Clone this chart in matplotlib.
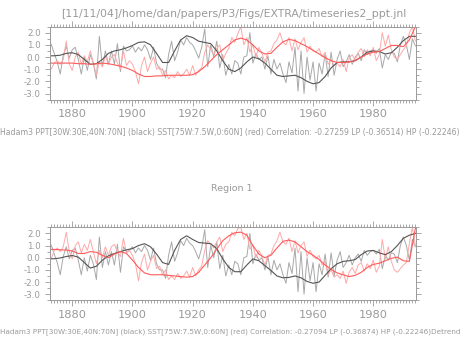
import numpy as np
import matplotlib
matplotlib.use("Agg")
import matplotlib.pyplot as plt
from matplotlib.ticker import MultipleLocator

lata = np.arange(1872, 1995)

# opad (czarny) - surowe wartosci roczne
ppt = [0.5, 1.05, 0.3, -0.4, -1.4, 0.1, 0.9, -0.1, 0.6, 0.8,
       -0.2, -1.4, 0.0, -1.1, 0.2, -0.5, -1.8, 1.7, -0.8, 0.5,
       -0.6, 0.5, -0.6, 1.1, -1.2, 0.9, 0.5, 0.6, 0.9, 0.4,
       0.8, 0.5, 1.0, 0.6, -0.2, 0.8, -0.5, -1.0, -1.0, -1.7,
       0.2, 1.3, -0.3, 0.4, 1.4, 1.0, 1.6, 1.2, 1.0, 0.5,
       -0.1, 0.8, 2.3, -0.8, 1.0, 0.0, 1.3, -0.9, 0.2, -1.5,
       -0.6, -1.4, -0.3, -0.5, -1.4, 0.0, 0.1, 2.0, -0.5, 0.3,
       -0.2, 0.0, -1.0, 0.1, -1.4, -0.2, -1.0, -0.5, -1.4, -2.1,
       -0.4, -1.3, 0.8, -2.8, 0.5, -3.0, 0.0, -1.9, -0.4, -2.8,
       -0.5, -1.4, 0.3, -1.6, 0.4, -1.5, -0.2, 0.5, -0.8, -0.4,
       0.2, -0.6, 0.0, 0.3, -0.3, 0.6, 0.2, 0.5, 0.6, 0.3,
       0.7, -0.9, 0.2, -0.2, 0.4, 0.3, -0.4, 1.0, 1.7, 1.0,
       -0.2, 1.5, 0.9]

# SST (czerwony) - surowe wartosci roczne
sst = [-0.3, -1.0, -0.5, -0.3, -0.6, -0.2, 1.3, -0.6, -1.1, 0.0,
       0.4, -0.6, 0.1, -0.4, 0.5, -0.5, -1.5, -0.4, -0.8, 0.1,
       -0.6, 0.0, 0.2, -0.5, -1.0, 0.5, -0.7, -0.3, -0.6, -1.2,
       -2.2, -0.7, 0.0, -1.2, -0.5, 0.0, -1.0, -0.8, -1.5, -1.1,
       -1.8, -1.5, -1.7, -1.2, -1.6, -1.4, -1.0, -1.5, -0.7, -1.5,
       -1.1, -0.9, 0.4, 1.0, 0.6, 0.2, 0.7, 1.0, -0.3, 0.3,
       0.7, 1.6, 1.2, 1.9, 2.5, 1.0, 1.6, 0.4, 1.0, 0.0,
       0.8, 0.3, -0.4, 0.4, 0.5, 1.1, 1.4, 2.0, 1.2, 1.0,
       1.6, 0.5, 1.5, 0.6, 1.2, 1.6, 0.4, 0.9, 0.5, 0.4,
       0.7, 0.0, 0.4, -0.6, -0.2, -0.7, -0.5, -0.8, -0.2, -1.2,
       -0.1, 0.2, -0.3, 0.4, 0.7, 0.0, 0.6, 0.1, 0.8, -0.3,
       0.2, 2.0, 0.9, 1.8, 0.6, 0.0, -0.2, 0.2, 0.6, 0.9,
       2.0, 2.5, 1.3]

# SST bez trendu (dolny wykres)
sst_dt = [0.8, -0.1, 0.6, 0.8, 0.5, 0.9, 2.1, 0.5, -0.1, 1.0,
          1.3, 0.4, 1.1, 0.6, 1.5, 0.5, -0.5, 0.6, 0.0, 0.9,
          0.2, 0.9, 1.1, 0.5, 0.1, 1.6, 0.4, 0.6, 0.2, -0.5,
          -1.9, -0.4, 0.3, -1.0, -0.3, 0.2, -0.9, -0.7, -1.4, -1.0,
          -1.8, -1.5, -1.8, -1.3, -1.7, -1.5, -1.1, -1.6, -0.8, -1.5,
          -1.0, -0.7, 0.6, 1.4, 1.1, 0.8, 1.3, 1.7, 0.5, 1.1,
          1.3, 2.1, 1.8, 2.4, 2.5, 1.5, 2.0, 0.7, 1.0, 0.0,
          0.6, 0.1, -0.6, 0.2, 0.3, 1.0, 1.4, 2.1, 1.3, 1.1,
          1.6, 0.5, 1.4, 0.4, 1.0, 1.3, 0.1, 0.6, 0.1, -0.1,
          0.2, -0.6, -0.3, -1.4, -1.0, -1.6, -1.4, -1.7, -1.1, -2.1,
          -1.2, -0.8, -1.3, -0.6, -0.4, -1.1, -0.5, -0.9, -0.2, -1.2,
          -0.7, 1.5, -0.1, 0.9, -0.3, -1.0, -1.2, -0.9, -0.6, -0.4,
          1.2, 2.5, 1.0]

# filtr dolnoprzepustowy, co 2 lata
lata_lp = np.arange(1872, 1996, 2)
ppt_lp = [0.1, 0.1, 0.15, 0.3, 0.35, 0.2, -0.2, -0.6, -0.55, -0.2,
          0.3, 0.5, 0.6, 0.75, 0.95, 1.2, 1.25, 1.0, 0.3, -0.45,
          -0.45, 0.5, 1.4, 1.75, 1.6, 1.3, 1.2, 1.1, 0.5, -0.3,
          -1.0, -1.2, -0.9, -0.4, 0.0, -0.15, -0.5, -1.0, -1.5, -1.6,
          -1.55, -1.5, -1.7, -2.0, -2.2, -2.1, -1.6, -0.9, -0.45, -0.4,
          -0.4, -0.3, 0.0, 0.4, 0.5, 0.45, 0.25, 0.35, 0.8, 1.35,
          1.7, 1.7]
sst_lp = [-0.5, -0.5, -0.5, -0.5, -0.5, -0.55, -0.55, -0.6, -0.55, -0.5,
          -0.55, -0.65, -0.75, -0.9, -1.1, -1.4, -1.6, -1.6, -1.55, -1.55,
          -1.5, -1.5, -1.5, -1.5, -1.45, -1.2, -0.8, -0.3, 0.2, 0.6,
          1.0, 1.4, 1.55, 1.4, 1.0, 0.5, 0.25, 0.3, 0.8, 1.25,
          1.45, 1.35, 1.1, 0.85, 0.55, 0.25, -0.05, -0.3, -0.45, -0.45,
          -0.4, -0.3, 0.0, 0.25, 0.4, 0.45, 0.7, 0.95, 0.95, 0.85,
          1.4, 2.5]
ppt_lp_dt = [-0.1, -0.08, -0.02, 0.1, 0.18, 0.05, -0.4, -0.85, -0.7, -0.2,
             0.15, 0.35, 0.5, 0.65, 0.75, 1.0, 1.15, 0.9, 0.3, -0.4,
             -0.55, 0.6, 1.5, 1.8, 1.5, 1.25, 1.2, 1.15, 0.75, -0.1,
             -0.8, -1.15, -1.15, -0.6, -0.1, -0.25, -0.65, -1.05, -1.5, -1.65,
             -1.62, -1.5, -1.65, -1.95, -2.1, -2.0, -1.45, -0.9, -0.5, -0.3,
             -0.25, -0.15, 0.25, 0.55, 0.6, 0.4, 0.25, 0.5, 1.0, 1.6,
             1.85, 2.0]
sst_lp_dt = [0.7, 0.68, 0.65, 0.63, 0.55, 0.35, 0.35, 0.5, 0.45, 0.2,
             0.0, 0.3, 0.5, 0.35, -0.2, -0.8, -1.25, -1.4, -1.4, -1.4,
             -1.45, -1.5, -1.55, -1.6, -1.55, -1.2, -0.6, 0.0, 0.7, 1.4,
             1.8, 2.05, 2.1, 1.85, 1.0, 0.3, 0.0, 0.2, 0.8, 1.35,
             1.45, 1.3, 0.9, 0.5, 0.2, -0.15, -0.6, -0.95, -1.25, -1.4,
             -1.55, -1.45, -1.2, -0.8, -0.55, -0.45, -0.25, -0.05, 0.05, -0.25,
             -0.3, 2.4]

podpisy = ["Hadam3 PPT[30W:30E,40N:70N] (black) SST[75W:7.5W,0:60N] (red) "
           "Correlation: -0.27259 LP (-0.36514) HP (-0.22246)",
           "Hadam3 PPT[30W:30E,40N:70N] (black) SST[75W:7.5W,0:60N] (red) "
           "Correlation: -0.27094 LP (-0.36874) HP (-0.22246)Detrend"]
rozmiary = [5.6, 5.2]

szary = "#9a9a9a"
plt.rcParams["font.family"] = ["DejaVu Sans"]

fig = plt.figure(figsize=(4.68, 3.37), dpi=100)
fig.text(0.5, 1 - 14 / 337, "[11/11/04]/home/dan/papers/P3/Figs/EXTRA/timeseries2_ppt.jnl",
         ha="center", va="center", fontsize=7.8, color=szary)
fig.text(0.496, 1 - 188 / 337, "Region 1", ha="center", va="center",
         fontsize=6.8, color=szary)

dane = [(ppt, sst, ppt_lp, sst_lp, 26.6, 133),
        (ppt, sst_dt, ppt_lp_dt, sst_lp_dt, 227.3, 332)]

for i, (p, s, plp, slp, gora, ytxt) in enumerate(dane):
    ax = fig.add_axes([49.7 / 468, 1 - (gora + 73) / 337, 366 / 468, 73 / 337])
    ax.plot(lata, p, color="#a8a8a8", lw=0.7)
    ax.plot(lata, s, color="#ffa8a8", lw=0.7)
    ax.plot(lata_lp, plp, color="#555555", lw=0.8)
    ax.plot(lata_lp, slp, color="#ff5a5a", lw=0.8)
    ax.set_xlim(1872.5, 1994.1)
    ax.set_ylim(-3.5, 2.5)
    ax.set_xticks([1880, 1900, 1920, 1940, 1960, 1980])
    ax.xaxis.set_minor_locator(MultipleLocator(1))
    ax.set_yticks([-3, -2, -1, 0, 1, 2])
    ax.set_yticklabels(["%.1f" % v for v in [-3, -2, -1, 0, 1, 2]])
    ax.yaxis.set_minor_locator(MultipleLocator(0.5))
    ax.tick_params(which="both", direction="out", colors=szary, width=0.6,
                   top=True, right=True, labelsize=6.3, pad=3)
    ax.tick_params(axis="x", which="major", length=4, labelsize=8.2, pad=3)
    ax.tick_params(axis="y", which="major", length=3.5)
    ax.tick_params(which="minor", length=2)
    for sp in ax.spines.values():
        sp.set_color(szary)
        sp.set_linewidth(0.7)
    fig.text(0.0, 1 - ytxt / 337, podpisy[i], ha="left", va="center",
             fontsize=rozmiary[i], color=szary)

fig.savefig("out.png", dpi=100)
